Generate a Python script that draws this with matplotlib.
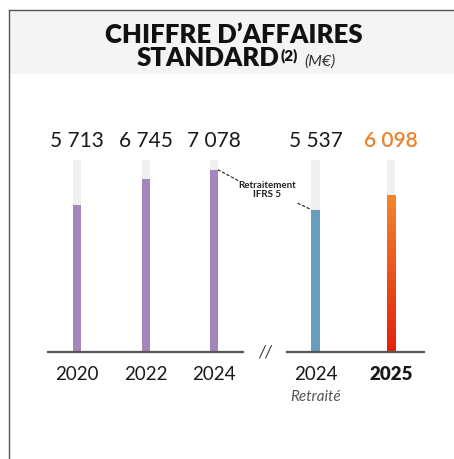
import matplotlib

matplotlib.use("Agg")
import matplotlib.pyplot as plt
import numpy as np
from matplotlib.colors import LinearSegmentedColormap
from matplotlib.patches import Rectangle
from matplotlib.transforms import blended_transform_factory

plt.rcParams["font.family"] = ["Lato", "DejaVu Sans"]

years = ["2020", "2022", "2024", "2024", "2025"]
sub_labels = ["", "", "", "Retraité", ""]
values = [5713, 6745, 7078, 5537, 6098]
value_labels = ["5 713", "6 745", "7 078", "5 537", "6 098"]

# layout (pixel positions of the 454x459 picture)
W, H = 454, 459
xpos = [77, 146, 214, 315.5, 391]
bar_w = 8.7
track_max = 7465
colors = ["#a685bd", "#a685bd", "#a685bd", "#6a9dbb", None]


def fy(py):
    return 1 - py / H


fig = plt.figure(figsize=(W / 100, H / 100), dpi=100)

# frame and title band
fig.patches.append(Rectangle((9 / W, fy(74)), 1, (74 - 10) / H, transform=fig.transFigure,
                             facecolor="#f4f4f4", edgecolor="none", zorder=0))
fig.add_artist(plt.Line2D([9 / W, 9 / W], [0, fy(10)], color="#555555", lw=1, transform=fig.transFigure))
fig.add_artist(plt.Line2D([9 / W, 1], [fy(10), fy(10)], color="#555555", lw=1, transform=fig.transFigure))

fig.text(234 / W, fy(35), "CHIFFRE D\u2019AFFAIRES", ha="center", va="center",
         fontsize=18.5, fontweight="heavy", color="#111111")

# second title line: chain the pieces, then center the group
renderer = fig.canvas.get_renderer()
pieces = [
    ("STANDARD", dict(fontsize=18.5, fontweight="heavy", color="#111111"), 0, 0),
    ("(2)", dict(fontsize=11, fontweight="heavy", color="#111111"), 5.5, 1.5),
    ("(M\u20ac)", dict(fontsize=11.5, fontstyle="italic", color="#333333"), 0, 6),
]
texts, widths = [], []
for s, kw, rise, gap in pieces:
    t = fig.text(0, fy(66 + 0) + rise / H, s, ha="left", va="baseline", **kw)
    texts.append(t)
    widths.append(t.get_window_extent(renderer).width)
total = sum(widths) + sum(p[3] for p in pieces)
x0 = 236 - total / 2
for t, w, p in zip(texts, widths, pieces):
    x0 += p[3]
    t.set_x(x0 / W)
    x0 += w

ax = fig.add_axes([0, fy(352), 1, (352 - 160) / H])
ax.axis("off")

# grey tracks and value bars
ax.bar(xpos, [track_max] * len(xpos), width=bar_w, color="#efefef", zorder=1)
for x, v, c in zip(xpos, values, colors):
    if c is not None:
        ax.bar(x, v, width=bar_w, color=c, zorder=2)
    else:
        cmap = LinearSegmentedColormap.from_list("grad", ["#e2200f", "#f3852c"])
        grad = np.linspace(0, 1, 256).reshape(-1, 1)
        ax.imshow(grad, extent=[x - bar_w / 2, x + bar_w / 2, 0, v], origin="lower",
                  cmap=cmap, aspect="auto", zorder=2)
ax.set_xlim(0, W)
ax.set_ylim(0, track_max)

# baselines
ax.plot([48, 243], [0, 0], color="#555555", lw=1.6, zorder=3, clip_on=False)
ax.plot([287, 424], [0, 0], color="#555555", lw=1.6, zorder=3, clip_on=False)
ax.text(265, 0, "//", ha="center", va="center", fontsize=12, fontstyle="italic",
        color="#333333", clip_on=False)

# value labels above tracks
tr = blended_transform_factory(ax.transData, fig.transFigure)
for i, (x, lab) in enumerate(zip(xpos, value_labels)):
    last = i == len(xpos) - 1
    ax.text(x, fy(141), lab, transform=tr, ha="center", va="center", fontsize=15,
            color="#f07f27" if last else "#1a1a1a", fontweight="semibold" if last else "normal")

# year labels
for i, (x, y, s) in enumerate(zip(xpos, years, sub_labels)):
    last = i == len(xpos) - 1
    ax.text(x, fy(375), y, transform=tr, ha="center", va="center", fontsize=13.5,
            color="#1a1a1a", fontweight="heavy" if last else "normal")
    if s:
        ax.text(x, fy(397), s, transform=tr, ha="center", va="center", fontsize=11,
                fontstyle="italic", color="#555555")

# restatement annotation
ax.text(267, fy(190), "Retraitement\nIFRS 5", transform=tr, ha="center", va="center",
        fontsize=7, fontweight="bold", color="#222222", linespacing=1.1)
ax.annotate("", xy=(xpos[2] + bar_w / 2, values[2]), xytext=(14, -7.5), textcoords="offset points",
            arrowprops=dict(arrowstyle="-", linestyle=(0, (2, 2)), color="#333333", lw=0.9,
                            shrinkA=0, shrinkB=0))
ax.annotate("", xy=(xpos[3] - bar_w / 2, values[3]), xytext=(-9.5, 4.5), textcoords="offset points",
            arrowprops=dict(arrowstyle="-", linestyle=(0, (2, 2)), color="#333333", lw=0.9,
                            shrinkA=0, shrinkB=0))

fig.savefig("out.png", dpi=100)
